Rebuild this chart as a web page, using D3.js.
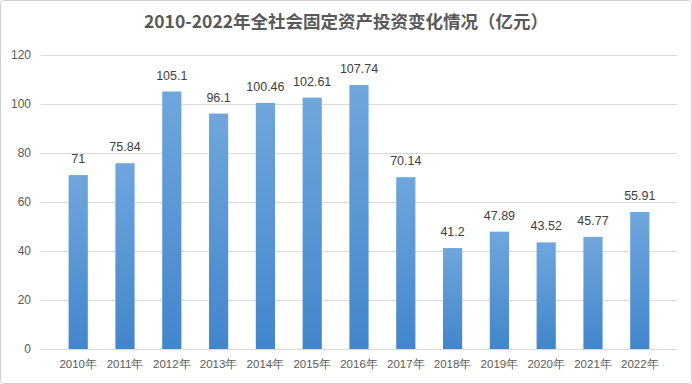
<!DOCTYPE html>
<html>
<head>
<meta charset="utf-8">
<script src="https://cdn.jsdelivr.net/npm/d3@7"></script>
<style>
  body { margin: 0; background: #fff; }
  svg { display: block; font-family: "Noto Sans CJK SC", "Noto Sans", sans-serif; }
</style>
</head>
<body>
<div id="chart"></div>
<script>
let width = 692;
let height = 384;
let margin = { top: 55, right: 15, bottom: 35, left: 41 };

let years = ["2010年", "2011年", "2012年", "2013年", "2014年", "2015年", "2016年",
  "2017年", "2018年", "2019年", "2020年", "2021年", "2022年"];
let values = [71, 75.84, 105.1, 96.1, 100.46, 102.61, 107.74, 70.14, 41.2, 47.89, 43.52, 45.77, 55.91];
let yTicks = [0, 20, 40, 60, 80, 100, 120];
let title = "2010-2022年全社会固定资产投资变化情况（亿元）";

let svg = d3.select("#chart")
  .append("svg")
  .attr("width", width)
  .attr("height", height);

let defs = svg.append("defs");
let grad = defs.append("linearGradient")
  .attr("id", "barGrad")
  .attr("x1", 0).attr("y1", 0).attr("x2", 0).attr("y2", 1);
grad.append("stop").attr("offset", "0%").attr("stop-color", "#6fa6dc");
grad.append("stop").attr("offset", "100%").attr("stop-color", "#4286cb");

// chart border
svg.append("rect")
  .attr("x", 0.5).attr("y", 0.5)
  .attr("width", width - 1).attr("height", height - 1)
  .attr("rx", 3)
  .attr("fill", "#fff")
  .attr("stroke", "#d0d0d0");

let x = d3.scaleBand()
  .domain(years)
  .range([margin.left, width - margin.right])
  .padding(0.59);

let y = d3.scaleLinear()
  .domain([0, 120])
  .range([height - margin.bottom, margin.top]);

// gridlines + y labels
let yAxis = svg.append("g")
  .attr("transform", `translate(${margin.left},0)`)
  .call(d3.axisLeft(y).tickValues(yTicks).tickSize(-(width - margin.left - margin.right)).tickPadding(10));
yAxis.select(".domain").remove();
yAxis.selectAll(".tick line").attr("stroke", "#d9d9d9");
yAxis.selectAll(".tick text")
  .attr("fill", "#595959")
  .style("font-size", "12px")
  .style("font-family", "Liberation Sans, Arial, sans-serif");

// x axis
let xAxis = svg.append("g")
  .attr("transform", `translate(0,${height - margin.bottom})`)
  .call(d3.axisBottom(x).tickSize(0).tickPadding(11));
xAxis.select(".domain").attr("stroke", "#d9d9d9");
xAxis.selectAll(".tick text")
  .attr("fill", "#595959")
  .style("font-size", "11.5px");

// bars
svg.append("g")
  .selectAll("rect")
  .data(years)
  .enter()
  .append("rect")
  .attr("x", d => x(d))
  .attr("y", (d, i) => y(values[i]))
  .attr("width", x.bandwidth())
  .attr("height", (d, i) => y(0) - y(values[i]))
  .attr("fill", "url(#barGrad)");

// value labels
svg.append("g")
  .selectAll("text")
  .data(years)
  .enter()
  .append("text")
  .attr("x", d => x(d) + x.bandwidth() / 2)
  .attr("y", (d, i) => y(values[i]) - 12)
  .attr("text-anchor", "middle")
  .attr("fill", "#404040")
  .style("font-size", "12.5px")
  .style("font-family", "Liberation Sans, Arial, sans-serif")
  .text((d, i) => values[i]);

// title
svg.append("text")
  .attr("x", width / 2)
  .attr("y", 28)
  .attr("text-anchor", "middle")
  .attr("fill", "#595959")
  .style("font-size", "17.5px")
  .style("font-weight", "bold")
  .text(title);
</script>
</body>
</html>
